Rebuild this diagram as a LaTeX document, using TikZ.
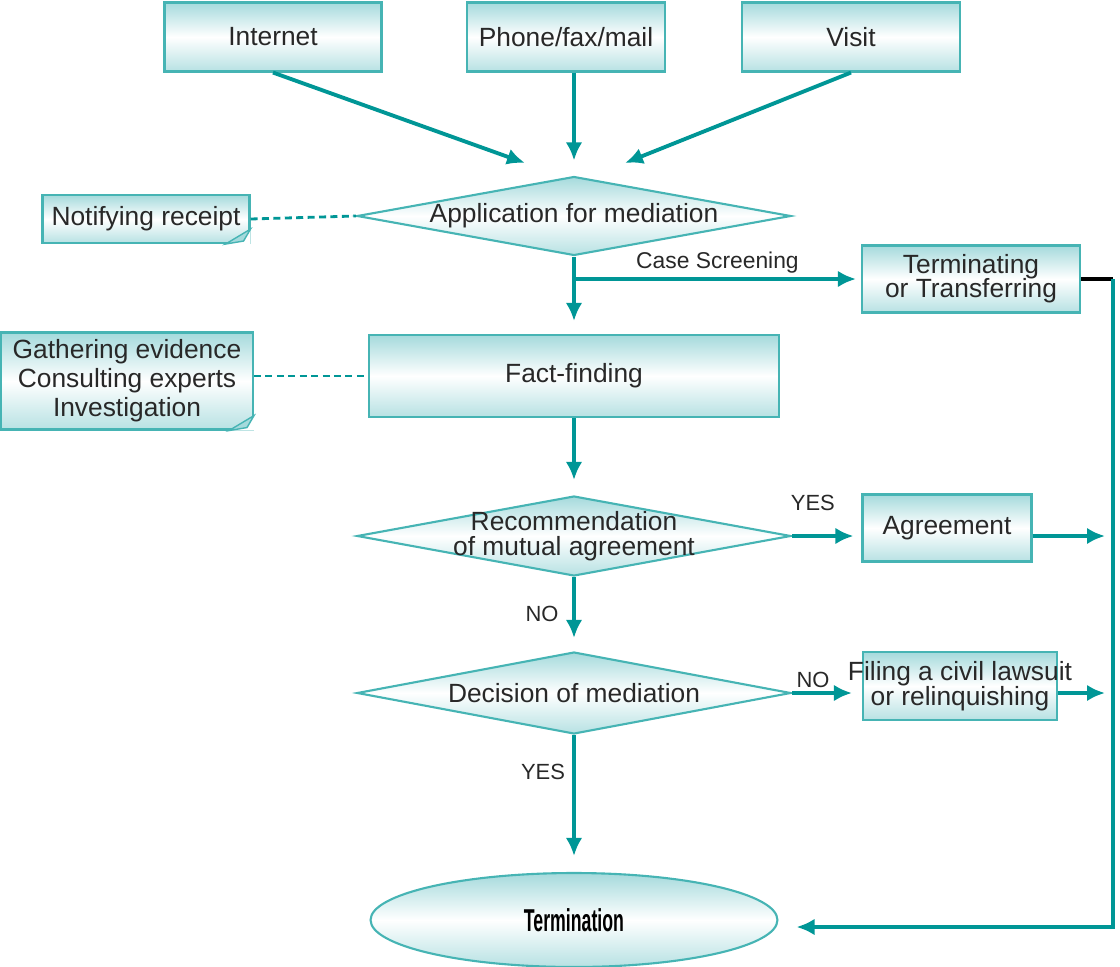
\documentclass[tikz,border=0pt]{standalone}
\usepackage{fontspec}
\setmainfont{Liberation Sans}
\usepackage{graphicx}
\usetikzlibrary{arrows.meta,positioning,calc,shapes.geometric}
\definecolor{cvl}{RGB}{0,150,150}
\definecolor{cvb}{RGB}{70,180,180}
\definecolor{cvf}{RGB}{165,218,220}
\definecolor{cvt}{RGB}{40,40,40}

\begin{document}
\begin{tikzpicture}[
  x=0.02cm,y=-0.02cm,
  font=\fontsize{15}{16.5}\selectfont,text=cvt,
  box/.style={draw=cvb,line width=1.2pt,top color=cvf,bottom color=cvf!80,middle color=white,align=center,inner sep=2pt},
  dec/.style={diamond,draw=cvb,line width=1.2pt,top color=cvf,bottom color=cvf!80,middle color=white,inner sep=0pt,minimum width=8.68cm,minimum height=1.58cm},
  arr/.style={-{Latex[length=3.6mm,width=3.3mm]},cvl,line width=2.2pt},
  dasharr/.style={cvl,line width=1.6pt,dash pattern=on 4pt off 2.5pt},
  lbl/.style={font=\fontsize{12.5}{14}\selectfont,text=cvt,inner sep=2pt}
]
\useasboundingbox (0,0) rectangle (1120,967);
% ways in
\node[box,minimum width=4.34cm,minimum height=1.38cm] (inet) at (273,37) {Internet};
\node[box,minimum width=3.96cm,minimum height=1.38cm] (pfm) at (566,37) {Phone/fax/mail};
\node[box,minimum width=4.36cm,minimum height=1.38cm] (vis) at (851,37) {Visit};
% main column
\node[dec,label={center:Application for mediation}] (app) at (574,216) {};
\node[box,minimum width=4.14cm,minimum height=0.96cm] (nr) at (146,219) {Notifying receipt};
\node[box,minimum width=4.36cm,minimum height=1.34cm] (tt) at (971,279) {Terminating\\[-3pt]or Transferring};
\node[box,minimum width=8.2cm,minimum height=1.64cm] (ff) at (574,376) {Fact-finding};
\node[box,minimum width=5.04cm,minimum height=1.94cm] (ge) at (127,381) {Gathering evidence\\Consulting experts\\Investigation};
\node[dec,minimum height=1.6cm,label={[align=center]center:Recommendation\\[-2pt]of mutual agreement}] (rec) at (574,536) {};
\node[box,minimum width=3.38cm,minimum height=1.34cm] (agr) at (947,528) {Agreement};
\node[dec,minimum height=1.64cm,label={center:Decision of mediation}] (dcs) at (574,693) {};
\node[box,minimum width=3.88cm,minimum height=1.36cm,label={[align=center]center:Filing a civil lawsuit\\[-2pt]or relinquishing}] (fil) at (960,686) {};
\node[ellipse,draw=cvb,line width=1.2pt,top color=cvf,bottom color=cvf!80,middle color=white,
  minimum width=8.14cm,minimum height=1.88cm,font=\fontsize{18}{20}\selectfont\bfseries,text=black] (term) at (574,920)
  {\scalebox{0.56}[1]{Termination}};
% folded corners
\foreach \n in {nr,ge}{
  \fill[white] ([xshift=-0.5cm]\n.south east) -- (\n.south east) -- ([yshift=0.3cm]\n.south east) -- cycle;
  \filldraw[draw=cvb,fill=cvf,line width=0.8pt] ([xshift=-0.5cm]\n.south east) -- ([yshift=0.3cm]\n.south east)
    -- ([xshift=-0.14cm,yshift=0.06cm]\n.south east) -- cycle;
}
\coordinate (in1) at (525,163);
\coordinate (vi1) at (625,163);
\coordinate (rt) at (1113,279);
\coordinate (rb) at (1113,927);
\coordinate (ry) at (1105,536);
\coordinate (rn) at (1105,693);
\draw[arr] (inet.south) -- (in1);
\draw[arr,shorten >=0.3cm] (pfm.south -| app.north) -- (app.north);
\draw[arr] (vis.south) -- (vi1);
\draw[dasharr] (nr.east) -- (app.west);
\draw[arr,shorten >=0.26cm] (app.south) -- (ff.north);
\draw[arr,shorten >=0.1cm] (app.south |- tt.west) -- node[lbl,above,font=\fontsize{13}{14}\selectfont]{Case Screening} (tt.west);
\draw[line width=2.2pt] (tt.east) -- (rt);
\draw[arr,shorten >=0.36cm] (rt) -- (rb) -- (rb -| term.east);
\draw[dasharr] (ff.west -| ge.east) -- (ff.west);
\draw[arr,shorten >=0.3cm] (ff.south) -- (rec.north);
\draw[arr,shorten >=0.16cm] (rec.east) -- node[lbl,above=0.4cm,pos=0.3]{YES} (rec.east -| agr.west);
\draw[arr] (rec.east -| agr.east) -- (ry);
\draw[arr,shorten >=0.26cm] (rec.south) -- node[lbl,left=0.2cm]{NO} (dcs.north);
\draw[arr,shorten >=0.2cm] (dcs.east) -- node[lbl,above,pos=0.3]{NO} (dcs.east -| fil.west);
\draw[arr] (dcs.east -| fil.east) -- (rn);
\draw[arr,shorten >=0.32cm] (dcs.south) -- node[lbl,left=2pt,pos=0.27]{YES} (term.north);
\end{tikzpicture}
\end{document}
